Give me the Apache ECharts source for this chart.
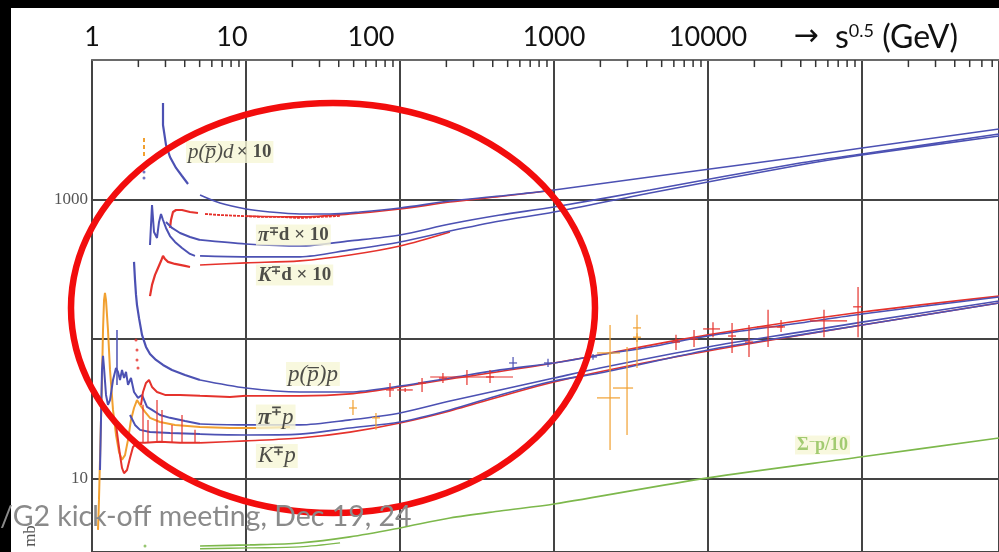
<!DOCTYPE html>
<html>
<head>
<meta charset="utf-8">
<script src="https://cdn.jsdelivr.net/npm/echarts@6.0.0/dist/echarts.min.js"></script>
<style>
html,body{margin:0;padding:0;background:#ffffff;overflow:hidden}
#chart{width:999px;height:552px}
</style>
</head>
<body>
<div id="chart"></div>
<script>
// ===== data: points are [sqrt(s) in GeV, sigma in mb] =====
// deuteron targets (x10)
const pbarD_fit = [[5.03,1077],[6.78,944],[10,855],[14.3,813],[22.4,787],[35.1,787],[55,813],[100,869],[211,975],[446,1059],[1000,1170],[4200,1449],[39550,2017],[100000,2341],[775000,3200]];
const pD_fit = [[10,762],[22.4,750],[47.3,787],[100,855],[211,959],[446,1050],[1000,1165]];
const piD_fit = [[5.03,513],[10,480],[22.4,464],[47.3,505],[100,557],[211,667],[446,774],[1000,884],[4200,1170],[39550,1827],[100000,2118],[775000,2950]];
const kD_fit = [[5.03,394],[10,388],[22.4,388],[47.3,435],[100,496],[211,594],[446,701],[1000,813],[4200,1114],[39550,1767],[100000,2083],[775000,2853]];
const kPlusD_fit = [[5.03,339],[10,351],[22.4,363],[47.3,400],[100,464],[211,585]];
const pbarD_low = [[2.891,4920],[2.891,3420],[3.023,2462],[3.21,2017],[3.512,1683],[3.841,1474],[4.203,1291]];
const pD_low = [[3.21,625],[3.258,713],[3.356,813],[3.512,841],[3.841,841],[4.329,813],[4.877,800]];
const pD_dots = [[5.42,787],[6.78,774],[9.14,762],[12.3,750],[16.6,750],[22.4,737],[30.2,750],[40.8,762]];
const piD_low = [[2.38,472],[2.416,657],[2.453,913],[2.527,585],[2.643,530],[2.724,690],[2.806,787],[2.891,713],[3.023,625],[3.21,547],[3.459,496],[3.841,449],[4.329,407],[4.665,394]];
const piD_low2 = [[3.023,690],[3.307,625],[3.728,575],[4.329,538],[5.027,513]];
const kD_low = [[2.38,203],[2.453,244],[2.566,288],[2.683,323],[2.806,362],[2.891,394],[2.979,374],[3.115,357],[3.459,345],[4.017,334],[4.329,328]];
const orangeD_spike = [[2.176,2762],[2.176,1982]];
const blueD_dots = [[2.176,1767],[2.176,1574],[2.176,1426]];
// proton targets
const pbarP_fit = [[5.03,50.8],[10,44.5],[22.4,41.7],[47.3,41.7],[100,46],[211,52.5],[446,60],[1000,67.3],[1990,76.8],[4200,87.7],[10000,105],[39550,130],[100000,151],[775000,200]];
const pP_fit = [[10,39.1],[22.4,39.1],[47.3,40.4],[100,45.3],[211,51.6],[1000,67.3],[10000,107],[100000,156],[775000,203]];
const piP_fit = [[5.03,24.6],[10,24.2],[22.4,24.2],[47.3,26.3],[100,29.5],[211,35.9],[446,43.1],[1000,52.5],[1990,62],[10000,87.7],[39550,112],[100000,132],[775000,187]];
const kP_fit = [[5.03,20.8],[10,20.5],[22.4,20.8],[47.3,23],[100,25.4],[211,31],[446,39.7],[1000,50],[1990,57],[10000,83.4],[39550,107],[100000,126],[775000,181]];
const kPlusP_fit = [[5.03,18],[10,18.6],[22.4,19.5],[47.3,21.5],[100,25],[211,30.5],[1000,49.2],[10000,82],[775000,181]];
const pbarP_low = [[1.874,357],[1.902,265],[1.931,207],[1.96,175],[2.02,141],[2.112,107],[2.242,87.7],[2.38,78],[2.603,70.7],[2.891,65.1],[3.307,60],[4.017,55.2],[5.027,50.8]];
const pP_low = [[2.08,33.7],[2.144,41.7],[2.242,48.4],[2.345,50.8],[2.453,45.3],[2.643,41.7],[2.979,39.7],[3.728,39.7],[5.027,39.1],[7.87,38.4],[10,39.1]];
const pP_dots = [[1.931,98.4],[1.96,83.4],[1.96,70.7],[1.99,62]];
const piMinusP_low = [[1.127,11.5],[1.144,26.3],[1.161,60],[1.179,75.6],[1.197,62],[1.233,39.7],[1.27,33.7],[1.309,36.5],[1.369,50.8],[1.432,62],[1.475,58.1],[1.52,50.8],[1.566,60],[1.614,52.5],[1.663,58.1],[1.713,46.8],[1.791,52.5],[1.874,41.7],[1.99,37.8],[2.112,39.7],[2.276,32.6],[2.453,31],[2.765,28.5],[3.21,27.2],[4.017,25.8],[5.027,24.6]];
const piMinusP_bar = [[1.453,116],[1.453,46.8]];
const piPlusP_low = [[1.094,4.28],[1.11,7.02],[1.127,13.6],[1.144,26.3],[1.161,50.8],[1.179,116],[1.197,190],[1.214,214],[1.233,190],[1.27,116],[1.309,60],[1.369,31],[1.432,20.5],[1.497,15.5],[1.566,13.6],[1.638,14.7],[1.713,18.9],[1.791,26.3],[1.874,32],[1.96,36.5],[2.05,33.7],[2.209,30],[2.38,27.2],[2.765,25.4],[3.459,24.2],[5.027,23.4],[7.87,23],[12.3,23],[19.3,23.4]];
const kMinusP_low = [[1.765,28.5],[1.902,24.2],[2.05,22.3],[2.38,21.5],[3.21,21.2],[5.027,20.8]];
const kPlusP_low = [[1.432,24.2],[1.475,18.9],[1.52,14.7],[1.566,11.9],[1.614,10.9],[1.688,11.5],[1.765,14],[1.846,16.8],[1.96,18],[2.209,18],[2.765,18.3],[3.728,18],[5.027,18]];
// Sigma- p (/10)
const sigmaP_fit = [[5.03,3.28],[10.6,3.34],[22.4,3.45],[47.3,3.81],[100,4.42],[211,5.21],[446,5.85],[1000,6.56],[10000,10.1],[100000,14.3],[775000,19.5]];
const sigmaP_low = [[5.03,3.13],[10.6,3.18],[22.4,3.23],[40.8,3.45]];
const sigmaP_dot = [[2.209,3.28]];
// error-bar points: [x, y, yLow, yHigh, xLow, xHigh]
const ppErr = [[86.1,43.1,38.4,48.4,null,null],[108,43.1,41.7,44.5,95.7,121],[139,48.4,41.7,52.5,null,null],[190,52.5,48.4,57,null,null],[272,53.4,46.8,60,157,542],[384,53.4,48.4,60,null,null],[6194,95,83.4,107,null,null],[8111,100,87.7,116,null,null],[10770,118,103,132,9290,11960],[14320,105,79.4,130,null,null],[18450,95,74.3,126,null,null],[24530,122,87.7,162,20800,30700],[29790,122,112,137,null,null],[56620,135,103,162,45920,79960],[94200,170,103,236,87500,100000]];
const pbarpErr = [[542,67.3,60,74.3,null,null],[914,67.3,63,72,null,null],[1791,74.3,71,78,null,null]];
const orangeErr = [[49.5,32,28.5,36.5,null,null],[69.8,27.2,22.3,29.5,null,null],[2311,79.4,60,126,1901,2683],[2311,37.8,16,79.4,1901,2683],[2979,44.5,20.5,87.7,2415,3260],[3458,120,62,149,null,null],[3458,103,95,110,null,null]];
const kpSpikes = [[2.144,18,18,33.7,null,null],[2.31,18,18,26.3,null,null],[2.643,18,18,36.5,null,null],[2.848,18,18,31,null,null],[3.307,18,18,24.2,null,null],[3.841,18,18,28.5,null,null],[4.665,18,18,22.3,null,null]];
// tick labels / tick positions
const yTickLabels = ['10', '1000'];
const topLabels = ['1', '10', '100', '1000', '10000'];
const minorTickMultipliers = [2,3,4,5,6,7,8,9];
const minorTickDecades = [1, 10, 100, 1000, 10000, 100000];
// annotations
const annotationText = [
  '{i|p(p\u0305)d} {b|× 10}',
  '{bi|π}{s|∓}{b|d × 10}',
  '{bi|K}{s|∓}{b|d × 10}',
  '{i2|p(p\u0305)p}',
  '{bi2|π}{s2|∓}{i2|p}',
  '{i2|K}{s2|∓}{i2|p}',
  '{g|Σ}{gs|−}{g|p/10}'
];
const annotationAt = [[4.077,2193],[11.6,557],[11.6,288],[18.2,56.1],[11.6,27.6],[11.6,14.5],[36700,17.4]];

// ===== layout / style =====
const W = 999, H = 552;
const PLOT_LEFT = 92, PLOT_TOP = 60;
const X_MAX = 775000, Y_MIN = 2.97, Y_MAX = 10000;
const topLabelX = [92, 232, 371, 554, 708];
const BLUE = '#4c51b3', RED = '#e5322c', ORANGE = '#f1a030', GREEN = '#7db84c';

function lineS(data, color, width, opts) {
  return Object.assign({type: 'line', data: data, showSymbol: false, smooth: 0.3,
    lineStyle: {color: color, width: width}, itemStyle: {color: color}, z: 3, silent: true}, opts || {});
}
function dotS(data, color, size) {
  return {type: 'scatter', data: data, symbolSize: size, itemStyle: {color: color}, z: 4, silent: true};
}
function errS(data, color, dash, lw) {
  return {
    type: 'custom', data: data, z: 4, silent: true,
    encode: {x: 0, y: 1},
    renderItem: function (params, api) {
      const x = api.value(0), y = api.value(1), ylo = api.value(2), yhi = api.value(3);
      const xlo = api.value(4), xhi = api.value(5);
      const a = api.coord([x, ylo]), b = api.coord([x, yhi]), c = api.coord([x, y]);
      const st = {stroke: color, lineWidth: lw || 1.2};
      const ch = [{type: 'line', shape: {x1: a[0], y1: a[1], x2: b[0], y2: b[1]}, style: st}];
      if (xlo && xhi && !isNaN(xlo) && !isNaN(xhi)) {
        const l = api.coord([xlo, y]), r = api.coord([xhi, y]);
        ch.push({type: 'line', shape: {x1: l[0], y1: l[1], x2: r[0], y2: r[1]}, style: st});
      } else if (dash) {
        ch.push({type: 'line', shape: {x1: c[0] - 4, y1: c[1], x2: c[0] + 4, y2: c[1]}, style: st});
      }
      return {type: 'group', children: ch};
    }
  };
}

// minor tick marks along the top frame: [x, y, y at frame, y at tick end]
const minorTicks = [];
minorTickDecades.forEach(function (d) {
  minorTickMultipliers.forEach(function (m) {
    if (d * m < X_MAX) minorTicks.push([d * m, 9000, 9990, 8900, null, null]);
  });
});

const serif = 'Liberation Serif';
const richStyles = {
  i: {fontFamily: serif, fontStyle: 'italic', fontSize: 21, color: '#222'},
  b: {fontFamily: serif, fontWeight: 'bold', fontSize: 19, color: '#222'},
  bi: {fontFamily: serif, fontWeight: 'bold', fontStyle: 'italic', fontSize: 20, color: '#222'},
  s: {fontFamily: serif, fontWeight: 'bold', fontSize: 12, color: '#222', verticalAlign: 'top'},
  i2: {fontFamily: serif, fontStyle: 'italic', fontSize: 23, color: '#222'},
  bi2: {fontFamily: serif, fontWeight: 'bold', fontStyle: 'italic', fontSize: 24, color: '#222'},
  s2: {fontFamily: serif, fontWeight: 'bold', fontSize: 13, color: '#222', verticalAlign: 'top'},
  g: {fontFamily: serif, fontWeight: 'bold', fontSize: 18, color: '#8cbf55'},
  gs: {fontFamily: serif, fontWeight: 'bold', fontSize: 11, color: '#8cbf55', verticalAlign: 'top'}
};

const annotationData = annotationAt.map(function (p, i) {
  return {value: p, label: {formatter: annotationText[i]}};
});

const chart = echarts.init(document.getElementById('chart'), null, {renderer: 'canvas', width: W, height: H});

const graphics = [
  {type: 'rect', shape: {x: 0, y: 0, width: W, height: 8}, style: {fill: '#000'}, z: 100},
  {type: 'rect', shape: {x: 0, y: 0, width: 11, height: H}, style: {fill: '#000'}, z: 100},
  {type: 'ellipse', shape: {cx: 333, cy: 308, rx: 262, ry: 205}, style: {fill: null, stroke: '#f20d0d', lineWidth: 6.5}, z: 100},
  {type: 'text', x: 31, y: 536, rotation: Math.PI / 2, style: {text: 'mb', font: '17px "Liberation Serif"', fill: '#555', textAlign: 'center', textVerticalAlign: 'middle'}, z: 100},
  {type: 'text', x: 0, y: 517, style: {text: '/G2 kick-off meeting, Dec 19, 24', font: '28.5px Lato', fill: '#8a8a8a', textAlign: 'left', textVerticalAlign: 'middle'}, z: 120},
  {type: 'text', x: 806, y: 37, style: {text: '→', font: '30px "DejaVu Sans"', fill: '#111', textAlign: 'center', textVerticalAlign: 'middle'}, z: 100},
  {type: 'text', x: 835, y: 38, style: {text: '{a|s}{b|0.5}{a| (GeV)}', rich: {a: {font: '32px Lato', fill: '#111'}, b: {font: '18px Lato', fill: '#111', verticalAlign: 'top'}}, textAlign: 'left', textVerticalAlign: 'middle'}, z: 100}
];
topLabels.forEach(function (t, i) {
  graphics.push({type: 'text', x: topLabelX[i], y: 37, style: {text: t, font: '27px Lato', fill: '#111', textAlign: 'center', textVerticalAlign: 'middle'}, z: 100});
});

const option = {
  animation: false,
  backgroundColor: '#ffffff',
  grid: {left: PLOT_LEFT, top: PLOT_TOP, right: 0, bottom: 0, containLabel: false, outerBoundsMode: 'none'},
  xAxis: {type: 'log', logBase: 10, min: 1, max: X_MAX, position: 'top',
    axisLine: {show: true, lineStyle: {color: '#777', width: 1.5}},
    axisTick: {show: false}, axisLabel: {show: false},
    splitLine: {show: true, lineStyle: {color: '#444', width: 2}}},
  yAxis: {type: 'log', logBase: 10, min: Y_MIN, max: Y_MAX,
    axisLine: {show: true, lineStyle: {color: '#444', width: 2}},
    axisTick: {show: false},
    axisLabel: {show: true, margin: 4, fontFamily: serif, fontSize: 17, color: '#555',
      formatter: function (v) { const s = String(Math.round(v)); return yTickLabels.indexOf(s) >= 0 ? s : ''; }},
    splitLine: {show: true, lineStyle: {color: '#444', width: 2}}},
  graphic: graphics,
  series: [
    // deuteron group
    lineS(pD_fit, RED, 1.6),
    lineS(pbarD_fit, BLUE, 1.6),
    lineS(kPlusD_fit, RED, 1.6),
    lineS(kD_fit, BLUE, 1.6),
    lineS(piD_fit, BLUE, 1.6),
    lineS(pbarD_low, BLUE, 2.2, {smooth: false}),
    lineS(pD_low, RED, 2.2, {smooth: false}),
    lineS(pD_dots, RED, 1.8, {smooth: false, lineStyle: {color: RED, width: 1.8, type: [3, 1]}}),
    lineS(piD_low, BLUE, 2, {smooth: false}),
    lineS(piD_low2, BLUE, 2, {smooth: false}),
    lineS(kD_low, RED, 2.2, {smooth: false}),
    lineS(orangeD_spike, ORANGE, 2, {smooth: false, lineStyle: {color: ORANGE, width: 2, type: [4, 3]}}),
    dotS(blueD_dots, BLUE, 3),
    // proton group
    lineS(pP_fit, RED, 1.6),
    lineS(pbarP_fit, BLUE, 1.6),
    lineS(kPlusP_fit, RED, 1.6),
    lineS(kP_fit, BLUE, 1.6),
    lineS(piP_fit, BLUE, 1.6),
    lineS(piPlusP_low, ORANGE, 2, {smooth: false}),
    lineS(kPlusP_low, RED, 2, {smooth: false}),
    lineS(kMinusP_low, BLUE, 2, {smooth: false}),
    lineS(piMinusP_low, BLUE, 2, {smooth: false}),
    lineS(piMinusP_bar, BLUE, 1.5, {smooth: false}),
    lineS(pbarP_low, BLUE, 2.2, {smooth: false}),
    lineS(pP_low, RED, 2, {smooth: false}),
    dotS(pP_dots, RED, 3),
    errS(kpSpikes, RED, false),
    errS(ppErr, RED, true),
    errS(pbarpErr, BLUE, true),
    errS(orangeErr, ORANGE, true),
    // Sigma- p
    lineS(sigmaP_fit, GREEN, 1.6),
    lineS(sigmaP_low, GREEN, 1.4),
    dotS(sigmaP_dot, GREEN, 3),
    // top-frame minor ticks
    errS(minorTicks, '#333', false, 1.5),
    // annotations
    {type: 'scatter', data: annotationData, symbolSize: 0, z: 6, silent: true,
      label: {show: true, position: 'right', distance: 0, backgroundColor: '#f6f6d6', padding: [1, 2, 0, 2], rich: richStyles}}
  ]
};
chart.setOption(option);
</script>
</body>
</html>
